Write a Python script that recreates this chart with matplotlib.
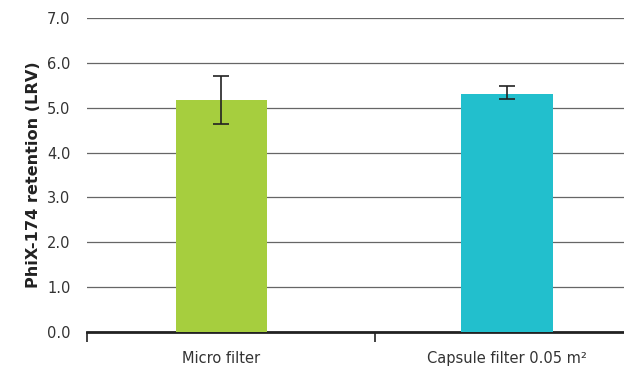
import numpy as np
import matplotlib.pyplot as plt

# datos
categorias = ["Micro filter", "Capsule filter 0.05 m²"]
valores = [5.17, 5.30]
err_bajo = [0.54, 0.10]
err_alto = [0.54, 0.18]
colores = ["#a6ce3e", "#22bfcd"]
yticks = [0.0, 1.0, 2.0, 3.0, 4.0, 5.0, 6.0, 7.0]

plt.rcParams['font.family'] = ['DejaVu Sans']

fig = plt.figure(figsize=(6.24, 3.67), dpi=100)
ax = fig.add_axes([87/624, 1 - 332/367, 1 - 87/624, (332 - 18)/367])

x = np.arange(len(categorias))
ax.bar(x, valores, width=0.32, color=colores, zorder=3)
ax.errorbar(x, valores, yerr=[err_bajo, err_alto], fmt='none', ecolor='#222222',
            elinewidth=1.2, capsize=6, capthick=1.2, zorder=4)

ax.set_ylim(0, 7)
ax.set_xlim(-0.47, 1.41)
ax.set_yticks(yticks)
ax.set_yticklabels([f"{v:.1f}" for v in yticks], fontsize=10.5, color='#333333')
ax.tick_params(axis='y', length=0, pad=12)
ax.yaxis.grid(True, color='#666666', linewidth=0.9, zorder=0)

ax.set_xticks(x)
ax.set_xticklabels(categorias, fontsize=10.5, color='#333333')
ax.tick_params(axis='x', which='major', length=0, pad=14)
ax.set_xticks([-0.47, 0.54], minor=True)
ax.tick_params(axis='x', which='minor', length=7, width=1.2, direction='out', color='#222222')

for s in ['top', 'right', 'left']:
    ax.spines[s].set_visible(False)
ax.spines['bottom'].set_linewidth(2)
ax.spines['bottom'].set_color('#222222')

ax.set_ylabel("PhiX-174 retention (LRV)", fontsize=11.6, fontweight='bold', color='#222222', labelpad=4)

fig.savefig("out.png", dpi=100)
